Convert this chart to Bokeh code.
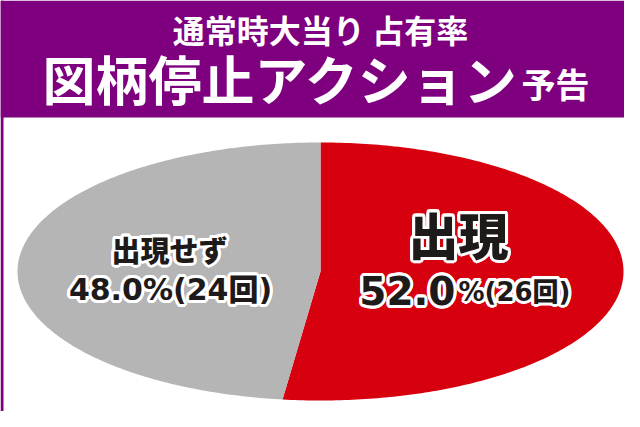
import numpy as np
from bokeh.plotting import figure
from bokeh.models import Range1d
from bokeh.core.properties import value
from bokeh.embed import file_html
from bokeh.resources import INLINE

# ---- data ----
title_line1 = "通常時大当り 占有率"
title_line2_main = "図柄停止アクション"
title_line2_sub = "予告"
labels = ["出現", "出現せず"]
percents = [52.0, 48.0]
counts = [26, 24]
colors = ["#d7000f", "#b5b5b6"]

JP = value("Noto Sans CJK JP")
JP_HEAVY = value("'Noto Sans CJK JP Black', 'Noto Sans CJK JP'")
NUM = value("'DejaVu Sans', 'Noto Sans CJK JP Black', 'Noto Sans CJK JP'")
PURPLE = "#7f007f"
INK = "#1e1a1a"

p = figure(width=624, height=411, output_backend="svg", toolbar_location=None,
           x_range=Range1d(0, 624), y_range=Range1d(411, 0),
           min_border=0, outline_line_color=None, background_fill_color="white",
           border_fill_color="white")
p.axis.visible = False
p.grid.visible = False

# header band + left frame edge
p.quad(left=[0], right=[624], top=[0], bottom=[117], fill_color=PURPLE, line_color=None)
p.quad(left=[0], right=[3], top=[0], bottom=[411], fill_color=PURPLE, line_color=None)

p.text(x=[320], y=[28], text=[title_line1], text_font=JP, text_font_style="bold",
       text_font_size="32px", text_color="white", text_align="center", text_baseline="middle")
p.text(x=[519], y=[77], text=[title_line2_main], text_font=JP, text_font_style="bold",
       text_font_size="53px", text_color="white", text_align="right", text_baseline="middle")
p.text(x=[521], y=[83], text=[title_line2_sub], text_font=JP, text_font_style="bold",
       text_font_size="34px", text_color="white", text_align="left", text_baseline="middle")

# elliptical pie (circle scaled to ellipse), starting at 12 o'clock, clockwise
cx, cy, a, b = 320.0, 271.0, 303.0, 129.0
total = sum(percents)
start = np.pi / 2
xs, ys = [], []
for pct in percents:
    sweep = 2 * np.pi * pct / total
    t = np.linspace(start, start - sweep, 240)
    xs.append(list(np.concatenate([[cx], cx + a * np.cos(t)])))
    ys.append(list(np.concatenate([[cy], cy - b * np.sin(t)])))
    start -= sweep
p.patches(xs=xs, ys=ys, fill_color=colors, line_color=None)

# outlined labels: white halo drawn as offset copies, then dark text on top
ang = np.linspace(0, 2 * np.pi, 16, endpoint=False)
halo_dx = list(np.round(3 * np.cos(ang), 2))
halo_dy = list(np.round(3 * np.sin(ang), 2))

def outlined(x, y, txt, size, align, baseline, font):
    n = len(halo_dx)
    p.text(x=[x] * n, y=[y] * n, text=[txt] * n, x_offset=halo_dx, y_offset=halo_dy,
           text_font=font, text_font_style="bold", text_font_size=size, text_color="white",
           text_align=align, text_baseline=baseline)
    p.text(x=[x], y=[y], text=[txt], text_font=font, text_font_style="bold",
           text_font_size=size, text_color=INK, text_align=align, text_baseline=baseline)

# red slice
outlined(458, 232, labels[0], "50px", "center", "middle", JP_HEAVY)
outlined(455, 290, f"{percents[0]:.1f}", "39px", "right", "alphabetic", NUM)
outlined(458, 291, f"%({counts[0]}回)", "26px", "left", "alphabetic", NUM)

# gray slice
outlined(169, 248, labels[1], "29px", "center", "middle", JP_HEAVY)
outlined(170, 289, f"{percents[1]:.1f}%({counts[1]}回)", "30px", "center", "alphabetic", NUM)

open("out.html", "w").write(file_html(p, INLINE))
